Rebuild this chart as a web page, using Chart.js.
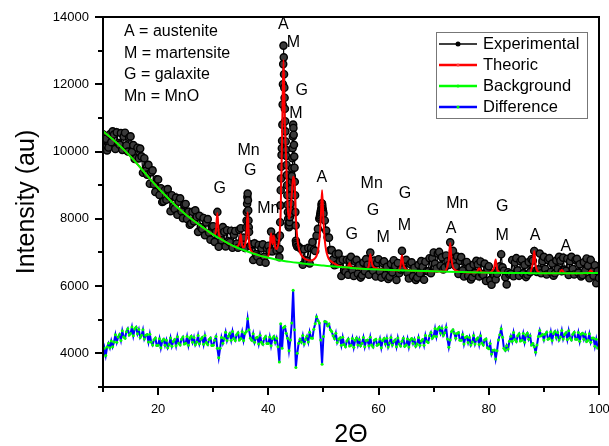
<!DOCTYPE html>
<html>
<head>
<meta charset="utf-8">
<script src="https://cdn.jsdelivr.net/npm/chart.js@4.4.1/dist/chart.umd.min.js"></script>
<style>
  html, body { margin: 0; padding: 0; background: #fff; }
  #wrap { width: 609px; height: 446px; }
</style>
</head>
<body>
<div id="wrap"><canvas id="xrd" width="609" height="446"></canvas></div>
<script>
// Scan: 2-theta from 10 to 100 degrees, 0.25 degree step
const scanStart = 10;
const scanStep = 0.25;

// Measured intensity, one row per degree (x.00, x.25, x.50, x.75)
const expCounts = [
  10510, 10118, 10380, 10033,
  10120, 10515, 10280, 10600,
  10505, 10078, 10570, 10253,
  10205, 10550, 10050, 10445,
  10560, 10183, 10000, 10418,
  10450, 9990, 10190, 9780,
  9800, 10113, 9795, 10088,
  9855, 9368, 9800, 9423,
  9315, 9603, 9045, 9383,
  9440, 9023, 8800, 9178,
  9170, 8710, 8910, 8500,
  8520, 8858, 8565, 8883,
  8675, 8227, 8700, 8362,
  8295, 8631, 8120, 8506,
  8610, 8218, 8020, 8423,
  8440, 7998, 8215, 7823,
  7860, 8208, 7925, 8253,
  8055, 7613, 8090, 7758,
  7695, 8025, 7510, 7890,
  7990, 7588, 7380, 7773,
  7780, 7315, 7610, 8205,
  7170, 7518, 7365, 7753,
  7615, 7178, 7660, 7333,
  7305, 7645, 7140, 7530,
  7640, 7263, 7140, 7678,
  7720, 7245, 7440, 7135,
  7740, 8750, 7610, 7195,
  7245, 6778, 7270, 6953,
  6875, 7223, 6725, 7123,
  7240, 6870, 6695, 7120,
  7200, 7040, 7620, 7030,
  7440, 7380, 7060, 7420,
  6860, 8850, 10320, 13150,
  11270, 9870, 8420, 7750,
  8270, 9270, 10800, 9520,
  7350, 7170, 7170, 7130,
  7095, 6635, 7095, 6765,
  6755, 7135, 6670, 7125,
  7310, 7080, 7045, 7500,
  7700, 8000, 8200, 8450,
  8150, 7950, 7650, 7450,
  7440, 7070, 7070, 6795,
  6620, 6950, 6650, 6965,
  6740, 6301, 6783, 6464,
  6425, 6783, 6335, 6773,
  6870, 6468, 6300, 6733,
  6780, 6368, 6615, 6253,
  6320, 6698, 6445, 6803,
  6635, 6338, 6995, 6613,
  6455, 6760, 6285, 6683,
  6800, 6428, 6253, 6687,
  6734, 6323, 6572, 6212,
  6278, 6658, 6408, 6768,
  6597, 6182, 6687, 6382,
  6491, 7046, 6506, 6706,
  6780, 6390, 6225, 6660,
  6706, 6296, 6546, 6186,
  6252, 6632, 6382, 6742,
  6573, 6188, 6723, 6448,
  6439, 6829, 6384, 6834,
  7000, 6670, 6525, 6970,
  7016, 6606, 6856, 6496,
  6552, 6910, 6740, 6629,
  7300, 6817, 7046, 6745,
  6589, 6878, 6362, 6751,
  6860, 6470, 6285, 6700,
  6716, 6306, 6556, 6196,
  6262, 6642, 6392, 6752,
  6643, 6288, 6733, 6366,
  6329, 6669, 6154, 6514,
  6590, 6180, 6040, 6380,
  6318, 6198, 6367, 6487,
  6586, 6946, 6556, 6456,
  6264, 6050, 6413, 6343,
  6367, 6777, 6292, 6702,
  6830, 6470, 6305, 6740,
  6788, 6378, 6628, 6268,
  6336, 6716, 6416, 6800,
  6754, 7044, 6453, 6423,
  6497, 6967, 6382, 6742,
  6870, 6510, 6345, 6780,
  6830, 6420, 6670, 6310,
  6380, 6760, 6510, 6870,
  6755, 6440, 6845, 6490,
  6455, 6815, 6330, 6740,
  6870, 6510, 6345, 6780,
  6810, 6400, 6650, 6290,
  6330, 6710, 6460, 6820,
  6607, 6232, 6778, 6434,
  6311, 6621, 6086, 6446,
  6240
];

// Extra measured points on the steep flanks of the strongest reflections
const fineTheta = [
  36.05, 36.1, 36.15, 36.2, 36.3, 36.35, 36.4, 36.45,
  42.05, 42.1, 42.15, 42.2, 42.3, 42.35, 42.4, 42.45, 42.55, 42.6, 42.65, 42.7,
  42.8, 42.85, 42.9, 42.95, 43.05, 43.1, 43.15, 43.2, 43.3, 43.35, 43.4, 43.45,
  43.55, 43.6, 43.65, 43.7, 43.8, 43.85, 43.9, 43.95, 44.05, 44.1, 44.15, 44.2,
  44.3, 44.35, 44.4, 44.45, 44.55, 44.6, 44.65, 44.7, 44.8, 44.85, 44.9, 44.95,
  45.05, 45.1,
  49.35, 49.4, 49.45, 49.55, 49.6, 49.65, 49.7, 49.8, 49.85, 49.9, 49.95
];
const fineCounts = [
  7950, 8200, 8450, 8650, 8550, 8250, 7950, 7750,
  7100, 7500, 7900, 8400, 9200, 9550, 9900, 10100, 10800, 11400, 12000, 12600,
  12800, 12300, 11900, 11600, 10900, 10600, 10300, 10050, 9600, 9300, 9000, 8700,
  8200, 8000, 7850, 7780, 7800, 7900, 8050, 8150, 8450, 8700, 8900, 9100,
  9500, 9800, 10100, 10450, 10700, 10500, 10200, 9850, 9100, 8700, 8200, 7800,
  7280, 7230,
  8050, 8100, 8150, 8250, 8300, 8400, 8460, 8380, 8300, 8250, 8200
];

// Observed minus calculated, shifted onto the 4000 level (same scan grid)
const diffCounts = [
  3900, 4150, 3935, 4190,
  4300, 4170, 4370, 4200,
  4340, 4555, 4330, 4485,
  4560, 4385, 4670, 4485,
  4450, 4645, 4730, 4545,
  4590, 4785, 4520, 4725,
  4780, 4580, 4710, 4470,
  4540, 4705, 4430, 4535,
  4560, 4335, 4570, 4335,
  4250, 4408, 4455, 4233,
  4240, 4432, 4165, 4367,
  4420, 4240, 4390, 4170,
  4260, 4457, 4215, 4352,
  4410, 4223, 4495, 4298,
  4250, 4423, 4485, 4278,
  4300, 4500, 4240, 4450,
  4510, 4330, 4475, 4253,
  4340, 4533, 4285, 4418,
  4470, 4270, 4530, 4320,
  4260, 4415, 4460, 4235,
  4240, 4390, 4500, 4150,
  3870, 4150, 4470, 4300,
  4440, 4630, 4380, 4510,
  4590, 4390, 4650, 4440,
  4380, 4550, 4610, 4400,
  4440, 4640, 4380, 4590,
  4650, 5030, 4700, 4450,
  4390, 4580, 4330, 4460,
  4480, 4280, 4540, 4330,
  4270, 4440, 4500, 4290,
  4290, 4490, 4230, 4440,
  4500, 4320, 4450, 4200,
  3740, 4880, 4150, 4760,
  4800, 4600, 4450, 4080,
  4400, 4900, 5880, 4700,
  3580, 4000, 4300, 4420,
  4340, 4530, 4280, 4410,
  4510, 4340, 4630, 4460,
  4450, 4720, 4880, 5090,
  4980, 4900, 4400, 3680,
  4500, 4950, 4930, 4820,
  4870, 4700, 4650, 4520,
  4440, 4600, 4320, 4420,
  4460, 4240, 4480, 4260,
  4200, 4370, 4430, 4220,
  4240, 4440, 4180, 4390,
  4460, 4250, 4410, 4230,
  4300, 4470, 4200, 4380,
  4400, 4230, 4480, 4250,
  4190, 4390, 4420, 4240,
  4270, 4430, 4170, 4380,
  4440, 4280, 4450, 4190,
  4310, 4470, 4250, 4350,
  4400, 4200, 4460, 4280,
  4220, 4360, 4450, 4210,
  4250, 4430, 4190, 4400,
  4440, 4290, 4410, 4210,
  4280, 4470, 4240, 4370,
  4410, 4240, 4530, 4350,
  4320, 4520, 4620, 4450,
  4510, 4740, 4500, 4720,
  4780, 4600, 4750, 4530,
  4610, 4780, 4430, 4180,
  4400, 4650, 4700, 4600,
  4450, 4590, 4620, 4390,
  4390, 4560, 4280, 4470,
  4500, 4320, 4470, 4250,
  4340, 4530, 4280, 4410,
  4460, 4260, 4520, 4310,
  4250, 4400, 4430, 4170,
  4140, 4290, 3980, 4090,
  4100, 3830, 4080, 4400,
  4550, 4730, 4480, 4150,
  4090, 4230, 4130, 4360,
  4510, 4360, 4620, 4410,
  4350, 4520, 4580, 4370,
  4390, 4590, 4330, 4540,
  4600, 4420, 4520, 4250,
  4290, 4200, 4030, 4250,
  4500, 4680, 4520, 4560,
  4400, 4570, 4630, 4420,
  4440, 4640, 4380, 4590,
  4650, 4470, 4620, 4400,
  4490, 4680, 4430, 4560,
  4610, 4410, 4670, 4460,
  4400, 4570, 4630, 4420,
  4420, 4620, 4360, 4570,
  4600, 4420, 4570, 4350,
  4390, 4580, 4330, 4460,
  4460, 4210, 4420, 4160,
  4180
];

// Calculated (fitted) profile
const theoTheta = [
  10, 12, 14, 16, 18, 20, 22, 24, 26, 28, 29, 30, 30.25, 30.5, 30.75, 31, 31.25, 31.5,
  32, 33, 34, 34.5, 34.75, 35, 35.25, 35.5, 35.75, 36, 36.25, 36.5, 36.75, 37, 38, 39,
  39.75, 40, 40.25, 40.5, 40.75, 41, 41.25, 41.5, 41.75, 42, 42.25, 42.5, 42.75, 43,
  43.25, 43.5, 43.75, 44, 44.25, 44.5, 44.75, 45, 45.25, 45.5, 45.75, 46, 46.5, 47,
  47.5, 48, 48.5, 48.75, 49, 49.25, 49.5, 49.75, 50, 50.25, 50.5, 50.75, 51, 51.5, 52,
  53, 54, 54.5, 54.75, 55, 55.5, 58, 58.25, 58.5, 58.75, 59, 59.5, 60, 61, 63.75, 64,
  64.25, 64.5, 64.75, 65, 66, 70, 72, 72.5, 72.75, 73, 73.25, 73.5, 73.75, 74, 75,
  77.75, 78, 78.25, 78.5, 78.75, 80, 80.75, 81, 81.25, 81.5, 81.75, 82, 87.5, 87.75,
  88, 88.25, 88.5, 88.75, 89, 89.5, 92.75, 93, 93.25, 93.5, 93.75, 98, 98.25, 98.5,
  98.75, 99, 100
];
const theoCounts = [
  10600, 10330, 10020, 9670, 9290, 8920, 8580, 8270, 8000, 7760, 7640, 7530, 7525, 7660, 8175, 7580, 7438, 7385,
  7340, 7250, 7170, 7195, 7298, 7540, 7205, 7150, 7205, 7490, 8195, 7310, 7095, 7020, 6930, 6880,
  6855, 6900, 7150, 7570, 7250, 7500, 7150, 7100, 7200, 7450, 8300, 10500, 12720, 10800,
  9700, 8400, 8000, 8200, 8700, 9250, 9100, 8000, 7450, 7150, 7000, 6920, 6830, 6780,
  6760, 6770, 6830, 6900, 7050, 7350, 7950, 8850, 7950, 7350, 7050, 6900, 6800, 6720, 6670,
  6590, 6550, 6585, 6683, 6580, 6535, 6510, 6628, 6945, 6703, 6580, 6535, 6505, 6484, 6467, 6616,
  6915, 6644, 6543, 6490, 6456, 6440, 6432, 6580, 6779, 7278, 6777, 6576, 6495, 6464, 6420,
  6405, 6466, 6527, 6467, 6405, 6400, 6478, 6578, 6788, 6517, 6437, 6396, 6387, 6505,
  6684, 7044, 6633, 6473, 6422, 6382, 6380, 6430, 6480, 6430, 6380, 6382, 6422, 6463,
  6424, 6386, 6390
];

// Background polynomial
const bgTheta = [
  10, 11, 12, 13, 14, 15, 16, 17, 18, 19, 20, 21, 22, 23, 24, 25, 26, 27, 28, 29, 30,
  31, 32, 33, 34, 35, 36, 37, 38, 39, 40, 42, 44, 46, 48, 50, 52, 55, 60, 65, 70, 75,
  80, 85, 90, 95, 100
];
const bgCounts = [
  10600, 10470, 10330, 10180, 10020, 9850, 9670, 9480, 9290, 9100, 8920, 8750, 8580, 8420, 8270, 8130, 8000, 7880, 7760, 7640, 7530,
  7430, 7340, 7250, 7170, 7100, 7040, 6980, 6930, 6880, 6840, 6770, 6720, 6680, 6640, 6610, 6580, 6540, 6490, 6460, 6440, 6420,
  6400, 6390, 6380, 6380, 6390
];

// Phase markers: text, 2-theta, intensity of the text centre
const phaseMarks = [
  ['G', 31.2, 8900], ['Mn', 36.4, 10040], ['G', 36.7, 9430], ['Mn', 40.0, 8310],
  ['A', 42.7, 13760], ['M', 44.55, 13240], ['G', 46.05, 11810], ['M', 45.0, 11130],
  ['A', 49.7, 9220], ['G', 55.15, 7530], ['Mn', 58.75, 9050], ['G', 59.0, 8240],
  ['M', 60.85, 7430], ['G', 64.8, 8750], ['M', 64.7, 7810], ['Mn', 74.3, 8460],
  ['A', 73.15, 7700], ['G', 82.45, 8350], ['M', 82.45, 7510], ['A', 88.4, 7510],
  ['A', 94.0, 7160]
];

const phaseKey = ['A = austenite', 'M = martensite', 'G = galaxite', 'Mn = MnO'];

const FONT = "'Liberation Sans', Arial, Helvetica, sans-serif";

const expPts = expCounts.map((y, i) => ({ x: scanStart + i * scanStep, y }))
  .concat(fineTheta.map((x, i) => ({ x, y: fineCounts[i] })))
  .sort((p, q) => p.x - q.x);
const diffPts = diffCounts.map((y, i) => ({ x: scanStart + i * scanStep, y }));
const theoPts = theoTheta.map((x, i) => ({ x, y: theoCounts[i] }));
const bgPts = bgTheta.map((x, i) => ({ x, y: bgCounts[i] }));

// Frame, outward tick marks, phase letters, key text and the legend box
const decorations = {
  id: 'decorations',
  afterDraw(chart) {
    const { ctx, chartArea: a, scales: { x, y } } = chart;
    ctx.save();
    ctx.strokeStyle = '#000';
    ctx.lineWidth = 2;
    ctx.strokeRect(a.left, a.top, a.right - a.left, a.bottom - a.top);

    ctx.lineWidth = 2;
    ctx.beginPath();
    y.ticks.forEach(t => {
      const py = Math.round(y.getPixelForValue(t.value));
      const len = t.value % 2000 === 0 ? 8 : 5;
      ctx.moveTo(a.left - len, py);
      ctx.lineTo(a.left, py);
    });
    x.ticks.forEach(t => {
      const px = Math.round(x.getPixelForValue(t.value));
      const len = t.value % 20 === 0 ? 8 : 5;
      ctx.moveTo(px, a.bottom);
      ctx.lineTo(px, a.bottom + len);
    });
    ctx.stroke();

    ctx.fillStyle = '#000';
    ctx.font = '16px ' + FONT;
    ctx.textAlign = 'center';
    ctx.textBaseline = 'middle';
    phaseMarks.forEach(([txt, th, c]) => {
      ctx.fillText(txt, x.getPixelForValue(th), y.getPixelForValue(c));
    });

    ctx.textAlign = 'left';
    phaseKey.forEach((txt, i) => {
      ctx.fillText(txt, a.left + 21, a.top + 15 + i * 21.5);
    });

    // legend
    const bx = 436, by = 32, bw = 151, bh = 86;
    ctx.fillStyle = '#fff';
    ctx.fillRect(bx, by, bw, bh);
    ctx.strokeStyle = '#777';
    ctx.lineWidth = 1;
    ctx.strokeRect(bx + 0.5, by + 0.5, bw, bh);
    ctx.font = '16.5px ' + FONT;
    const entries = ['Experimental', 'Theoric', 'Background', 'Difference'].map(name =>
      chart.data.datasets.find(d => d.label === name));
    entries.forEach((ds, i) => {
      const cy = 44 + i * 21;
      ctx.strokeStyle = ds.borderColor;
      ctx.lineWidth = ds.label === 'Experimental' ? 1.5 : 2.5;
      ctx.beginPath();
      ctx.moveTo(439, cy);
      ctx.lineTo(477, cy);
      ctx.stroke();
      ctx.fillStyle = ds.label === 'Experimental' ? '#000' : ds.legendDot;
      ctx.beginPath();
      ctx.arc(458, cy, ds.label === 'Experimental' ? 2.5 : 1.5, 0, Math.PI * 2);
      ctx.fill();
      ctx.fillStyle = '#000';
      ctx.fillText(ds.label, 483, cy);
    });
    ctx.restore();
  }
};

Chart.defaults.font.family = FONT;
Chart.defaults.color = '#000';

new Chart(document.getElementById('xrd'), {
  type: 'line',
  data: {
    datasets: [
      { label: 'Background', data: bgPts, borderColor: '#00ff00', borderWidth: 2,
        pointRadius: 0, cubicInterpolationMode: 'monotone', legendDot: '#00ff00', order: 1 },
      { label: 'Theoric', data: theoPts, borderColor: '#ff0000', borderWidth: 2,
        pointRadius: 0, cubicInterpolationMode: 'monotone', legendDot: '#ff4040', order: 2 },
      { label: 'Experimental', data: expPts, borderColor: '#000', borderWidth: 1.2,
        pointRadius: 3.6, pointBorderWidth: 1.4, pointBorderColor: '#000',
        pointBackgroundColor: '#3a3a3a', tension: 0, order: 3 },
      { label: 'Difference', data: diffPts, borderColor: '#0000ff', borderWidth: 2,
        pointRadius: 1.5, pointBorderWidth: 0, pointBackgroundColor: '#00ff00',
        legendDot: '#00ff00', tension: 0, order: 4 }
    ]
  },
  options: {
    responsive: false,
    animation: false,
    devicePixelRatio: 1,
    layout: { padding: { top: 17, right: 10, left: 0, bottom: 0 } },
    plugins: { legend: { display: false }, tooltip: { enabled: false } },
    scales: {
      x: {
        type: 'linear', min: 10, max: 100,
        grid: { display: false },
        border: { display: false },
        ticks: { stepSize: 10, padding: 7, autoSkip: false, maxRotation: 0,
          font: { size: 13 }, color: '#000',
          callback: v => (v % 20 === 0 ? String(v) : '') },
        title: { display: true, text: '2\u0398', color: '#000',
          font: { size: 25, lineHeight: 0.9 }, padding: { top: 0, bottom: 0 } },
        afterFit(s) { s.height = 59; s.paddingRight = 0; s.paddingLeft = 0; }
      },
      y: {
        type: 'linear', min: 3000, max: 14000,
        grid: { display: false },
        border: { display: false },
        ticks: { stepSize: 1000, padding: 6, autoSkip: false,
          font: { size: 13 }, color: '#000',
          callback: v => (v % 2000 === 0 ? String(v) : '') },
        title: { display: true, text: 'Intensity (au)', color: '#000',
          font: { size: 25, lineHeight: 1.2 }, padding: { top: 12, bottom: 0 } },
        afterFit(s) { s.width = 103; }
      }
    }
  },
  plugins: [decorations]
});
</script>
</body>
</html>
